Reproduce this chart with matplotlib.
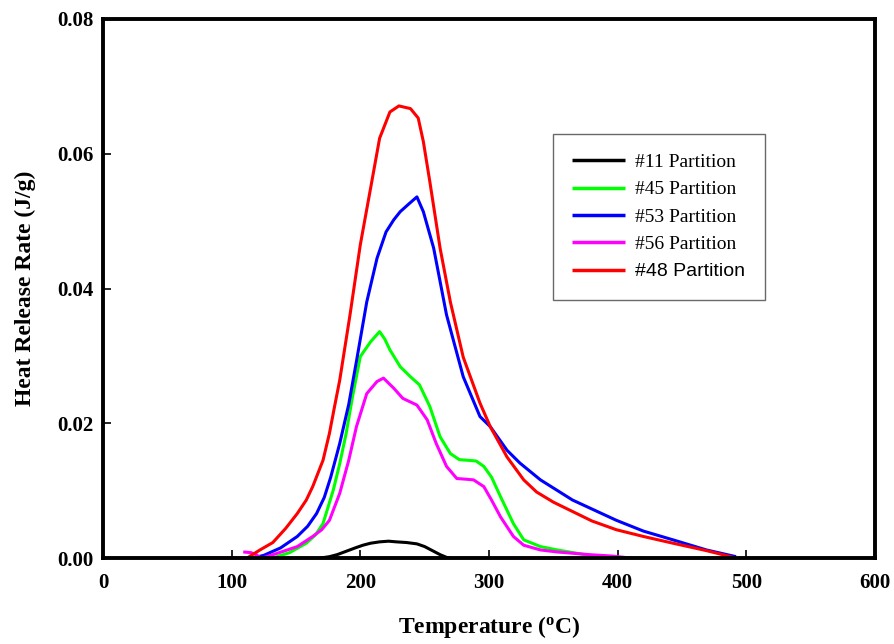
import matplotlib
matplotlib.use("Agg")
import matplotlib.pyplot as plt

# Temperature (°C) and heat release rate (J/g)
t11 = [169, 176, 182, 189, 196, 202, 208, 215, 222, 228, 236, 244, 250, 257, 262, 267, 270]
v11 = [0.0, 0.0002, 0.0005, 0.0010, 0.0015, 0.0019, 0.0022, 0.0024, 0.0025, 0.0024, 0.0023, 0.0021, 0.0017, 0.0010, 0.0005, 0.0001, 0.0]

t45 = [132, 145, 158, 165, 171, 179, 184, 189, 194, 200, 208, 215, 219, 223, 231, 239, 246, 254, 262, 270, 277, 284, 290, 296, 302, 309, 319, 327, 340, 353, 378, 402, 415, 421]
v45 = [0.0, 0.0008, 0.0022, 0.0034, 0.0051, 0.0101, 0.0140, 0.0185, 0.0240, 0.0299, 0.0321, 0.0336, 0.0325, 0.0309, 0.0284, 0.0269, 0.0257, 0.0225, 0.0180, 0.0155, 0.0146, 0.0145, 0.0144, 0.0136, 0.0120, 0.0091, 0.0051, 0.0027, 0.0017, 0.0012, 0.0004, 0.0001, 0.0, 0.0]

t53 = [116, 125, 138, 151, 159, 166, 172, 177, 184, 191, 197, 205, 213, 220, 226, 231, 238, 244, 249, 257, 267, 280, 293, 301, 314, 324, 340, 365, 399, 420, 443, 469, 492]
v53 = [0.0, 0.0004, 0.0015, 0.0032, 0.0047, 0.0066, 0.0090, 0.0120, 0.0170, 0.0228, 0.0292, 0.0380, 0.0445, 0.0484, 0.0502, 0.0514, 0.0526, 0.0536, 0.0514, 0.0460, 0.0361, 0.0269, 0.0210, 0.0195, 0.0160, 0.0141, 0.0116, 0.0086, 0.0056, 0.0040, 0.0027, 0.0012, 0.0002]

t56 = [109, 115, 119, 122, 124, 137, 151, 163, 170, 176, 184, 191, 197, 205, 213, 218, 226, 233, 244, 252, 259, 267, 275, 282, 288, 296, 302, 309, 319, 327, 340, 353, 378, 395, 410]
v56 = [0.0009, 0.0008, 0.0005, 0.0001, 0.0, 0.0008, 0.0017, 0.0032, 0.0042, 0.0056, 0.0096, 0.0145, 0.0195, 0.0244, 0.0262, 0.0267, 0.0252, 0.0237, 0.0227, 0.0205, 0.0170, 0.0136, 0.0118, 0.0117, 0.0116, 0.0106, 0.0086, 0.0061, 0.0032, 0.0019, 0.0012, 0.0009, 0.0005, 0.0003, 0.0]

t48 = [74, 90, 100, 112, 122, 132, 142, 151, 158, 163, 171, 176, 180, 184, 192, 200, 208, 215, 223, 230, 239, 245, 249, 254, 262, 270, 280, 293, 301, 314, 327, 337, 350, 365, 380, 399, 420, 443, 469, 492]
v48 = [0.0, 0.0, 0.0, 0.0, 0.0012, 0.0023, 0.0044, 0.0066, 0.0086, 0.0106, 0.0145, 0.0185, 0.0225, 0.0264, 0.0361, 0.0465, 0.0549, 0.0623, 0.0662, 0.0671, 0.0667, 0.0653, 0.0618, 0.0559, 0.0460, 0.0380, 0.0298, 0.0230, 0.0195, 0.0150, 0.0116, 0.0098, 0.0083, 0.0069, 0.0055, 0.0042, 0.0032, 0.0022, 0.0011, 0.0]

labels = ["#11 Partition", "#45 Partition", "#53 Partition", "#56 Partition", "#48 Partition"]
colors = ["#000000", "#00ff00", "#0000ff", "#ff00ff", "#ff0000"]

xticks = [0, 100, 200, 300, 400, 500, 600]
yticks = [0.00, 0.02, 0.04, 0.06, 0.08]

serif = "Liberation Serif"

fig = plt.figure(figsize=(8.94, 6.44), dpi=100)
ax = fig.add_axes([0.1152, 0.1335, 0.8635, 0.837])

series = [(t11, v11), (t45, v45), (t53, v53), (t56, v56), (t48, v48)]
for (t, v), lab, c in zip(series, labels, colors):
    ax.plot(t, v, color=c, lw=2.2, label=lab, solid_joinstyle="round",
            solid_capstyle="butt")

ax.set_xlim(0, 600)
ax.set_ylim(0, 0.08)
ax.set_xticks(xticks)
ax.set_yticks(yticks)
ax.set_xticklabels([str(x) for x in xticks])
ax.set_yticklabels([f"{y:.2f}" for y in yticks])
for lab in ax.get_xticklabels() + ax.get_yticklabels():
    lab.set_fontfamily(serif)
    lab.set_fontweight("bold")
    lab.set_fontsize(15)
ax.tick_params(direction="in", length=6, width=1.2)
ax.tick_params(axis="x", pad=11)
ax.tick_params(axis="y", pad=7)
for s in ax.spines.values():
    s.set_linewidth(2.8)

ax.set_xlabel("Temperature ($\\mathregular{^o}$C)", fontfamily=serif,
              fontweight="bold", fontsize=17, labelpad=15)
ax.set_ylabel("Heat Release Rate (J/g)", fontfamily=serif,
              fontweight="bold", fontsize=17, labelpad=15)

leg = ax.legend(loc="upper left", bbox_to_anchor=(0.5825, 0.7866), borderaxespad=0,
                frameon=True, fancybox=False, edgecolor="#444444",
                handlelength=2.7, borderpad=1.0, labelspacing=0.5,
                handletextpad=0.55,
                prop={"family": serif, "size": 14})
leg.get_frame().set_linewidth(1.0)
for line in leg.get_lines():
    line.set_linewidth(2.5)
leg.get_texts()[-1].set_fontfamily("Liberation Sans")
leg.get_texts()[-1].set_fontsize(14)

fig.savefig("out.png", dpi=100)
